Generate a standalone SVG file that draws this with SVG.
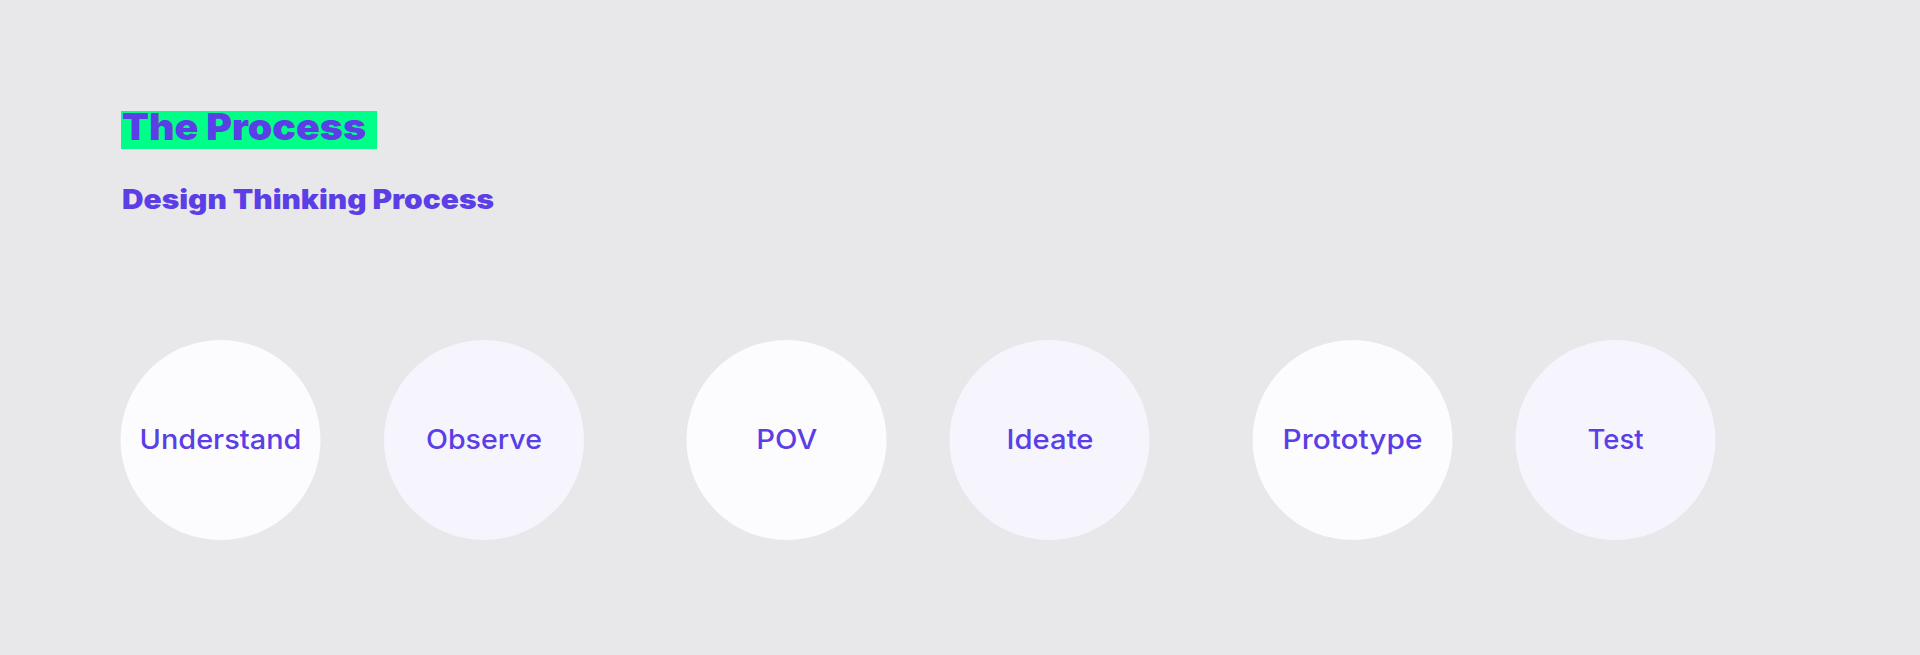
<svg xmlns="http://www.w3.org/2000/svg" width="1920" height="655" viewBox="0 0 1920 655">
  <style>
    .title { font-family: "Inter", "Lato", "Liberation Sans", sans-serif; font-weight: 900; fill: #5b3ee6; }
    .label { font-family: "Inter", "Lato", "Liberation Sans", sans-serif; font-weight: 500; font-size: 27px; fill: #5b3ee6; text-anchor: middle; }
    .c1 { fill: #fcfcfe; }
    .c2 { fill: #f6f5fe; }
  </style>
  <rect x="0" y="0" width="1920" height="655" fill="#e8e8ea"/>
  <g id="header">
    <rect x="121" y="111" width="256" height="38" fill="#00ff88"/>
    <text class="title" x="122" y="140" font-size="37" textLength="244" lengthAdjust="spacingAndGlyphs">The Process</text>
    <text class="title" x="122" y="209" font-size="27" textLength="372" lengthAdjust="spacingAndGlyphs">Design Thinking Process</text>
  </g>
  <g id="connectors"></g>
  <g id="node-understand">
    <circle class="c1" cx="220.5" cy="440" r="100"/>
    <text class="label" x="220.5" y="449" textLength="162" lengthAdjust="spacingAndGlyphs">Understand</text>
  </g>
  <g id="node-observe">
    <circle class="c2" cx="484" cy="440" r="100"/>
    <text class="label" x="484" y="449" textLength="116" lengthAdjust="spacingAndGlyphs">Observe</text>
  </g>
  <g id="node-pov">
    <circle class="c1" cx="786.5" cy="440" r="100"/>
    <text class="label" x="786.7" y="449" textLength="61" lengthAdjust="spacingAndGlyphs">POV</text>
  </g>
  <g id="node-ideate">
    <circle class="c2" cx="1049.5" cy="440" r="100"/>
    <text class="label" x="1050" y="449" textLength="87" lengthAdjust="spacingAndGlyphs">Ideate</text>
  </g>
  <g id="node-prototype">
    <circle class="c1" cx="1352.5" cy="440" r="100"/>
    <text class="label" x="1352.5" y="449" textLength="140" lengthAdjust="spacingAndGlyphs">Prototype</text>
  </g>
  <g id="node-test">
    <circle class="c2" cx="1615.5" cy="440" r="100"/>
    <text class="label" x="1615.6" y="449" textLength="56" lengthAdjust="spacingAndGlyphs">Test</text>
  </g>
</svg>
